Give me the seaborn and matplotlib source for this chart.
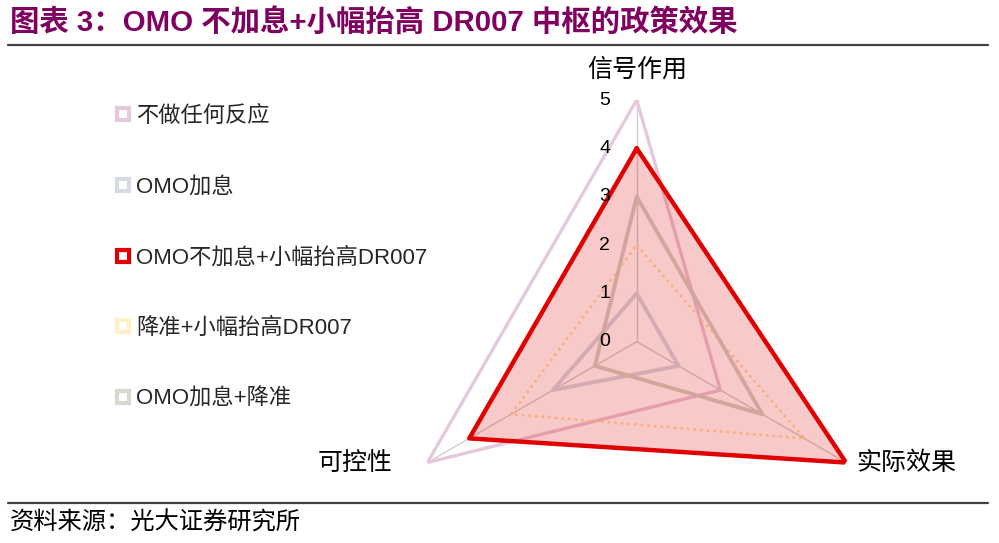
import numpy as np
import pandas as pd
import matplotlib
matplotlib.use('Agg')
import matplotlib.pyplot as plt
from matplotlib.lines import Line2D
import seaborn as sns

# data
categories = ['信号作用', '实际效果', '可控性']
series_names = ['不做任何反应', 'OMO加息', 'OMO不加息+小幅抬高DR007',
                '降准+小幅抬高DR007', 'OMO加息+降准']
no_reaction = [5, 2, 5]
omo_hike = [1, 1, 2]
omo_hold_dr007 = [4, 5, 4]
rrr_cut_dr007 = [2, 4, 3]
omo_hike_rrr_cut = [3, 3, 1]
r_ticks = [0, 1, 2, 3, 4, 5]

title = '图表 3：OMO 不加息+小幅抬高 DR007 中枢的政策效果'
source = '资料来源：光大证券研究所'

line_colors = ['#E6C8DC', '#D2D9E3', '#E00000', '#FFDD99', '#D2D2C6']
legend_colors = ['#E6C8DC', '#D6DCE5', '#E00000', '#FFF0C8', '#D8D8CE']
line_widths = [2.4, 2.8, 3.2, 1.8, 2.8]
line_styles = ['-', '-', '-', ':', '-']


def build_df():
    values = [no_reaction, omo_hike, omo_hold_dr007, rrr_cut_dr007, omo_hike_rrr_cut]
    n = len(categories)
    angles = [2 * np.pi * i / n for i in range(n)] + [2 * np.pi]
    rows = []
    for name, vals in zip(series_names, values):
        closed = list(vals) + [vals[0]]
        for a, v in zip(angles, closed):
            rows.append({'series': name, 'theta': a, 'value': v})
    return pd.DataFrame(rows), angles[:n]


def main():
    df, angles = build_df()
    fig = plt.figure(figsize=(9.99, 5.43), dpi=100)

    # polar axes: centre ~ (637, 342) px, radius 5 ~ 242 px
    ax = fig.add_axes([0.3954, -0.0744, 0.4839, 0.8902], projection='polar')
    ax.set_facecolor('none')
    ax.set_theta_zero_location('N')
    ax.set_theta_direction(-1)

    for i, name in enumerate(series_names):
        sub = df[df['series'] == name]
        z = 4 if i == 2 else 2
        sns.lineplot(data=sub, x='theta', y='value', sort=False, estimator=None,
                     color=line_colors[i], lw=line_widths[i], ls=line_styles[i],
                     legend=False, ax=ax, zorder=z)
        if i == 2:
            ax.fill(sub['theta'], sub['value'], color='#E00000', alpha=0.21,
                    lw=0, zorder=3)

    ax.set_ylim(0, 5)
    ax.set_xticks(angles)
    ax.set_xticklabels([])
    ax.set_yticks(r_ticks)
    ax.set_yticklabels([])
    ax.yaxis.grid(False)
    ax.xaxis.grid(True, color='#CFCFCF', lw=1)
    ax.spines['polar'].set_visible(False)
    ax.set_xlabel('')
    ax.set_ylabel('')

    for r in r_ticks:
        ax.annotate(str(r), xy=(0, r), xytext=(-32, 0), textcoords='offset pixels',
                    ha='center', va='center', fontsize=14, color='black', zorder=5)

    offsets = [(0, 30, 'center', 'center'), (10, 0, 'left', 'center'),
               (-35, 0, 'right', 'center')]
    for a, cat, (dx, dy, ha, va) in zip(angles, categories, offsets):
        ax.annotate(cat, xy=(a, 5), xytext=(dx, dy), textcoords='offset pixels',
                    ha=ha, va=va, fontsize=18, color='black')

    handles = [Line2D([], [], marker='s', ls='none', markersize=9,
                      markerfacecolor='white', markeredgecolor=c, markeredgewidth=3)
               for c in legend_colors]
    fig.legend(handles, series_names, loc='upper left',
               bbox_to_anchor=(105 / 999, 1 - 95 / 543), frameon=False,
               fontsize=16, labelspacing=2.22, handlelength=0.6,
               handletextpad=0.3, borderpad=0)

    fig.text(10 / 999, 1 - 22 / 543, title, fontsize=21.2, fontweight='bold',
             color='#800060', ha='left', va='center')
    for y in [45, 503]:
        fig.add_artist(Line2D([8 / 999, 988 / 999], [1 - y / 543] * 2,
                              transform=fig.transFigure, color='#404040', lw=1.6))
    fig.text(10 / 999, 1 - 523 / 543, source, fontsize=17.5, color='black',
             ha='left', va='center')

    fig.savefig('out.png', dpi=100)


if __name__ == '__main__':
    sns.set_theme(style='white')
    plt.rcParams['font.family'] = ['Liberation Sans', 'Noto Sans CJK SC']
    main()
